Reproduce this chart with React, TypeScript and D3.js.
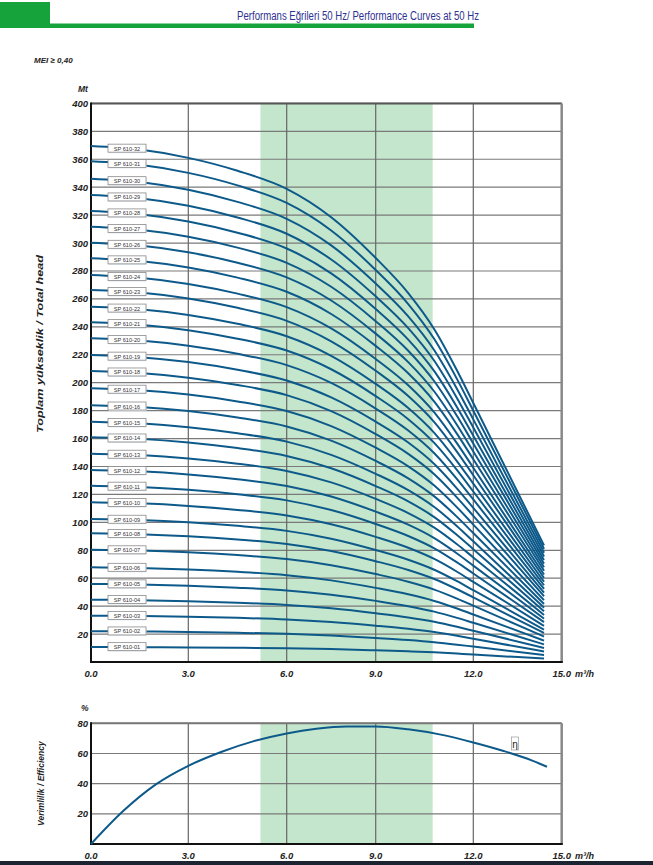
import React from 'react';
import * as d3 from 'd3';

// ---------- data ----------
const qTicks = [0, 3, 6, 9, 12, 15];
const qTickLabels = ['0.0', '3.0', '6.0', '9.0', '12.0', '15.0'];
const headTicks = [20, 40, 60, 80, 100, 120, 140, 160, 180, 200, 220, 240, 260, 280, 300, 320, 340, 360, 380, 400];
const effTicks = [20, 40, 60, 80];

const models = [
  'SP 610-01', 'SP 610-02', 'SP 610-03', 'SP 610-04', 'SP 610-05', 'SP 610-06', 'SP 610-07', 'SP 610-08',
  'SP 610-09', 'SP 610-10', 'SP 610-11', 'SP 610-12', 'SP 610-13', 'SP 610-14', 'SP 610-15', 'SP 610-16',
  'SP 610-17', 'SP 610-18', 'SP 610-19', 'SP 610-20', 'SP 610-21', 'SP 610-22', 'SP 610-23', 'SP 610-24',
  'SP 610-25', 'SP 610-26', 'SP 610-27', 'SP 610-28', 'SP 610-29', 'SP 610-30', 'SP 610-31', 'SP 610-32',
];
// shut-off head (m) of each model, read at Q = 0
const shutoffHead = [
  10.7, 22, 33.2, 44.6, 55.9, 67.8, 80.4, 92.2, 102.4, 114.4, 126.2, 137.5, 149.2, 160.9, 172.1, 183.9,
  196, 208.4, 219.8, 231.8, 243.2, 254.4, 266.4, 277.1, 289.1, 300.3, 311.7, 322.9, 334.4, 346.1, 358.5, 369.5,
];
// head curve shape (fraction of shut-off head)
const headQ = [0, 1.5, 3, 4.5, 6, 7.5, 9, 10, 10.8, 11.5, 12, 14.4];
const headRatio = [1, 0.993, 0.977, 0.952, 0.917, 0.862, 0.783, 0.715, 0.645, 0.565, 0.502, 0.226];

// efficiency curve
const effQ = [0, 1, 2, 3, 4, 5, 6, 7, 8, 9, 10, 11, 12, 13, 14, 14.5];
const effValue = [0, 22, 39.5, 51.8, 61, 68.2, 73.3, 76.4, 77.9, 77.9, 76.0, 72.5, 67.3, 61.8, 55.3, 51.2];

// recommended range
const bandQ = [5.2, 10.75];

const FONT = "'Liberation Sans', Arial, sans-serif";
const CURVE = '#0d5a8a';
const BAND = '#c4e6cc';
const GRID = '#7a7a7a';

export default function App() {
  const x = d3.scaleLinear().domain(qTicks).range([91, 188.3, 286.7, 375.7, 473.3, 561.7]);
  const yH = d3.scaleLinear().domain([0, 400]).range([662, 103.4]);
  const yE = d3.scaleLinear().domain([0, 80]).range([844, 723.3]);
  const ratioAt = d3.scaleLinear().domain(headQ).range(headRatio);

  const headLine = d3
    .line<number>()
    .x((_, i) => x(headQ[i]))
    .curve(d3.curveMonotoneX);

  const effLine = d3
    .line<number>()
    .x((_, i) => x(effQ[i]))
    .y((d) => yE(d))
    .curve(d3.curveMonotoneX);

  const x0 = x(0);
  const x15 = x(15);
  const labelQ = x.invert(127);

  return (
    <svg width={653} height={865} style={{ position: 'absolute', left: 0, top: 0, background: '#fff' }} fontFamily={FONT}>
      {/* header */}
      <rect x={0} y={2} width={50} height={22} fill="#17a33b" />
      <rect x={0} y={23.5} width={474} height={4.5} fill="#17a33b" />
      <text x={479} y={20} textAnchor="end" fontSize={12} fill="#2e3192" textLength={242} lengthAdjust="spacingAndGlyphs">
        Performans Eğrileri 50 Hz/ Performance Curves at 50 Hz
      </text>

      <text x={34} y={63} fontSize={8} fontWeight="bold" fontStyle="italic" fill="#222">MEI ≥ 0,40</text>
      <text x={78} y={92} fontSize={8.5} fontWeight="bold" fontStyle="italic" fill="#222">Mt</text>

      {/* ---------- top chart ---------- */}
      <rect x={x(bandQ[0])} y={yH(400)} width={x(bandQ[1]) - x(bandQ[0])} height={yH(0) - yH(400)} fill={BAND} />
      {headTicks.map((t) => (
        <line key={'hg' + t} x1={x0} x2={x15} y1={yH(t)} y2={yH(t)} stroke={GRID} strokeWidth={1.2} />
      ))}
      {qTicks.slice(1, 5).map((t) => (
        <line key={'vg' + t} x1={x(t)} x2={x(t)} y1={yH(400)} y2={yH(0)} stroke="#666" strokeWidth={1.2} />
      ))}
      <line x1={x0} x2={x15} y1={yH(400)} y2={yH(400)} stroke="#555" strokeWidth={2} />
      <line x1={x15} x2={x15} y1={yH(400)} y2={yH(0) + 1} stroke="#888" strokeWidth={2.5} />
      <line x1={x0} x2={x15 + 1} y1={yH(0)} y2={yH(0)} stroke="#111" strokeWidth={2} />
      <line x1={x0} x2={x0} y1={yH(400) - 1} y2={yH(0) + 1} stroke="#111" strokeWidth={2} />

      {shutoffHead.map((h0, i) => (
        <path
          key={'c' + i}
          d={headLine.y((r) => yH(r * h0))(headRatio) || ''}
          fill="none"
          stroke={CURVE}
          strokeWidth={2}
        />
      ))}

      {shutoffHead.map((h0, i) => {
        const cy = yH(ratioAt(labelQ) * h0);
        return (
          <g key={'l' + i}>
            <rect x={108.5} y={cy - 3.5} width={38} height={8} fill="#dfe7ee" />
            <rect x={108} y={cy - 4.5} width={38} height={8} fill="#fff" stroke="#8a8a8a" strokeWidth={0.8} />
            <text x={127} y={cy + 2} textAnchor="middle" fontSize={5.6} fill="#333">
              {models[i]}
            </text>
          </g>
        );
      })}

      {headTicks.map((t) => (
        <text key={'hl' + t} x={88} y={yH(t) + 3.5} textAnchor="end" fontSize={9.5} fontWeight="bold" fontStyle="italic" fill="#222">
          {t}
        </text>
      ))}
      {qTicks.map((t, i) => (
        <text key={'xl' + t} x={x(t)} y={677} textAnchor="middle" fontSize={9.5} fontWeight="bold" fontStyle="italic" fill="#222">
          {qTickLabels[i]}
        </text>
      ))}
      <text x={575} y={677} fontSize={9} fontWeight="bold" fontStyle="italic" fill="#222">m³/h</text>
      <text
        transform="translate(43, 344) rotate(-90)"
        textAnchor="middle"
        fontSize={9.5}
        fontWeight="bold"
        fontStyle="italic"
        fill="#222"
        textLength={178}
        lengthAdjust="spacingAndGlyphs"
      >
        Toplam yükseklik / Total head
      </text>

      {/* ---------- bottom chart ---------- */}
      <text x={81} y={711} fontSize={8.5} fontWeight="bold" fontStyle="italic" fill="#222">%</text>
      <rect x={x(bandQ[0])} y={yE(80)} width={x(bandQ[1]) - x(bandQ[0])} height={yE(0) - yE(80)} fill={BAND} />
      {effTicks.map((t) => (
        <line key={'eg' + t} x1={x0} x2={x15} y1={yE(t)} y2={yE(t)} stroke={GRID} strokeWidth={1.2} />
      ))}
      {qTicks.slice(1, 5).map((t) => (
        <line key={'evg' + t} x1={x(t)} x2={x(t)} y1={yE(80)} y2={yE(0)} stroke="#666" strokeWidth={1.2} />
      ))}
      <line x1={x0} x2={x15} y1={yE(80)} y2={yE(80)} stroke="#777" strokeWidth={2} />
      <line x1={x15} x2={x15} y1={yE(80)} y2={yE(0) + 1} stroke="#888" strokeWidth={2.5} />
      <line x1={x0} x2={x15 + 1} y1={yE(0)} y2={yE(0)} stroke="#111" strokeWidth={2} />
      <line x1={x0} x2={x0} y1={yE(80) - 1} y2={yE(0) + 1} stroke="#111" strokeWidth={2} />

      <path d={effLine(effValue) || ''} fill="none" stroke={CURVE} strokeWidth={2} />
      <rect x={511.5} y={737} width={7} height={13} fill="#fff" stroke="#999" strokeWidth={0.7} />
      <text x={515} y={747.5} textAnchor="middle" fontSize={10} fill="#222">η</text>

      {effTicks.map((t) => (
        <text key={'el' + t} x={88} y={yE(t) + 3.5} textAnchor="end" fontSize={9.5} fontWeight="bold" fontStyle="italic" fill="#222">
          {t}
        </text>
      ))}
      {qTicks.map((t, i) => (
        <text key={'exl' + t} x={x(t)} y={859} textAnchor="middle" fontSize={9.5} fontWeight="bold" fontStyle="italic" fill="#222">
          {qTickLabels[i]}
        </text>
      ))}
      <text x={575} y={859} fontSize={9} fontWeight="bold" fontStyle="italic" fill="#222">m³/h</text>
      <text
        transform={`translate(44, ${(yE(80) + yE(0)) / 2}) rotate(-90)`}
        textAnchor="middle"
        fontSize={8.5}
        fontWeight="bold"
        fontStyle="italic"
        fill="#222"
      >
        Verimlilik / Efficiency
      </text>

      <rect x={0} y={861} width={653} height={4} fill="#1c2432" />
    </svg>
  );
}
